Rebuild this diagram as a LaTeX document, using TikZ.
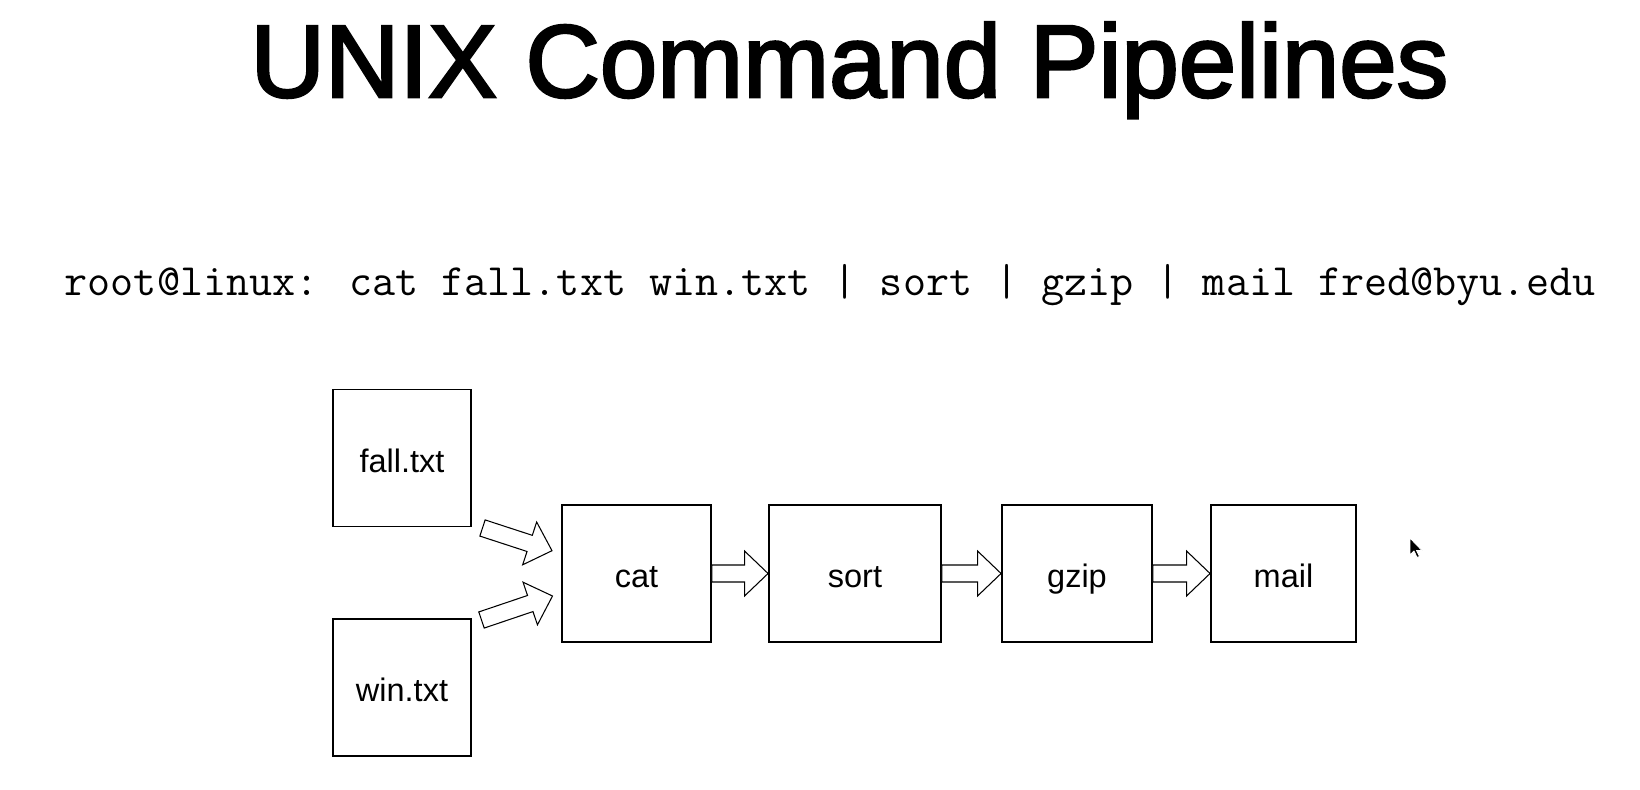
\documentclass[tikz,border=0pt]{standalone}
\usepackage{fontspec}
\setmainfont{Liberation Sans}
\newfontfamily\titlefont[FakeBold=2.5]{Liberation Sans}
\usetikzlibrary{calc}

\tikzset{
    box/.style={draw, line width=1.1pt, minimum height=2.74cm, inner sep=0pt, text height=16pt, text depth=0pt, font=\fontsize{18.5}{22}\selectfont},
    hollow/.style={draw, line width=0.6pt, fill=white, line join=miter},
}

% hollow block arrow from #1 (tail) to #2 (tip)
\newcommand{\pipearrow}[2]{%
    \draw[hollow] ($(#1)!0.17cm!90:(#2)$)
        -- ($(#2)!0.47cm!(#1)!0.17cm!-90:(#1)$)
        -- ($(#2)!0.47cm!(#1)!0.45cm!-90:(#1)$)
        -- (#2)
        -- ($(#2)!0.47cm!(#1)!0.45cm!90:(#1)$)
        -- ($(#2)!0.47cm!(#1)!0.17cm!90:(#1)$)
        -- ($(#1)!0.17cm!-90:(#2)$) -- cycle;}

\begin{document}
\begin{tikzpicture}[x=0.02cm, y=-0.02cm]
    \useasboundingbox[fill=white] (0,0) rectangle (1640,790);

    \node[anchor=base, font=\titlefont\fontsize{58.7}{60}\selectfont] (title) at (849.5,97) {UNIX Command Pipelines};
    \node[anchor=base, font=\ttfamily\fontsize{25.5}{28}\selectfont] (cmd) at (830,296)
        {root@linux: cat fall.txt win.txt | sort | gzip | mail fred@byu.edu};

    % input files
    \node[box, minimum width=2.76cm] (fall) at (402,458) {fall.txt};
    \node[box, minimum width=2.76cm] (win) at (402,687.5) {win.txt};

    % pipeline stages
    \foreach \name/\x/\w in {cat/636.5/2.98, sort/855/3.44, gzip/1077/3.0, mail/1283.5/2.9} {
        \node[box, minimum width=\w cm] (\name) at (\x,573.5) {\name};
    }
    \foreach \a/\b in {cat/sort, sort/gzip, gzip/mail} {
        \pipearrow{\a.east}{\b.west}
    }

    \coordinate (fallout) at (482.5,528);
    \coordinate (fallin) at (552,550.7);
    \coordinate (winout) at (481.5,620);
    \coordinate (winin) at (552.5,596);
    \pipearrow{fallout}{fallin}
    \pipearrow{winout}{winin}

    % mouse pointer
    \filldraw[fill=black, draw=white, line width=0.5pt, line join=round]
        (1410,538) -- ++(0,17) -- ++(4,-4) -- ++(3,6.5) -- ++(2.5,-1) -- ++(-3,-6) -- ++(5.5,0) -- cycle;
\end{tikzpicture}
\end{document}
